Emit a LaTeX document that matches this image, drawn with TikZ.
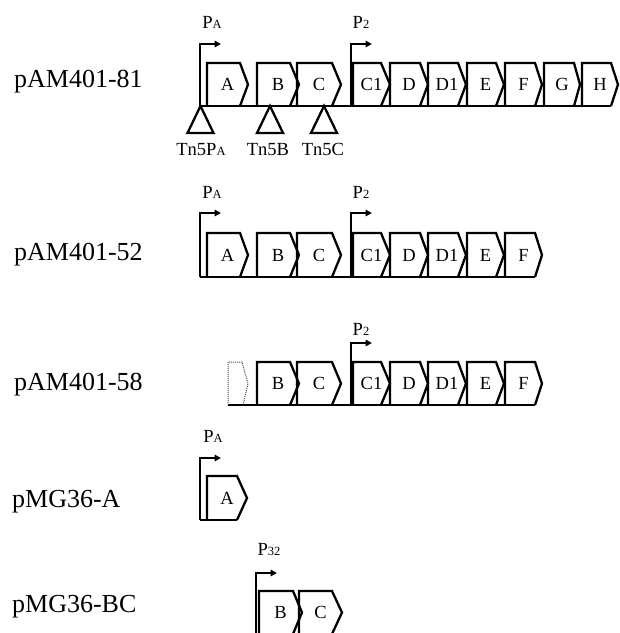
\documentclass[tikz,border=0pt]{standalone}
\usepackage{fontspec}
\setmainfont{Liberation Serif}
\usetikzlibrary{arrows.meta}
\newcommand{\sml}[1]{{\fontsize{12.5}{12.5}\selectfont #1}}
% gene: #1 left, #2 right, #3 tip, #4 top, #5 bottom, #6 label, #7 name
\newcommand{\gene}[7]{%
  \draw[gline] (#1,#5) -- (#1,#4) -- (#2,#4) -- (#3,{(#4+#5)/2}) -- (#2,#5);
  \node[gtext] (#7) at ({(#1+#3)/2},{(#4+#5)/2}) {#6};}
\tikzset{
  gline/.style={line width=2.3pt, line join=miter},
  prom/.style={line width=2.3pt, -{Triangle[length=6.5pt,width=6.5pt]}},
  gtext/.style={font=\fontsize{18.5}{18.5}\selectfont, inner sep=0pt},
  ptext/.style={font=\fontsize{18.5}{18.5}\selectfont, anchor=base, inner sep=0pt},
  rowlabel/.style={font=\fontsize{26}{26}\selectfont, anchor=base west, inner sep=0pt},
  tn/.style={line width=2.3pt, line join=miter},
  dotgene/.style={line width=1pt, dash pattern=on 1pt off 1pt, draw=black!70}
}
\begin{document}
\begin{tikzpicture}[x=1pt,y=-1pt]
\useasboundingbox (0,0) rectangle (620,633);
\fill[white] (0,0) rectangle (620,633);

% ---------- Row 1: pAM401-81 ----------
\node[rowlabel] (l1) at (14,87) {pAM401-81};
\coordinate (b1s) at (200,106);
\coordinate (b1e) at (611,106);
\draw[gline] (b1s) -- (b1e);
\gene{207}{240}{248}{63}{106}{A}{g1a}
\gene{257}{290}{299}{63}{106}{B}{g1b}
\gene{297}{332}{341}{63}{106}{C}{g1c}
\gene{353}{381}{390}{63}{106}{C1}{g1c1}
\gene{390}{420}{428}{63}{106}{D}{g1d}
\gene{428}{458}{466}{63}{106}{D1}{g1d1}
\gene{467}{496}{504}{63}{106}{E}{g1e}
\gene{505}{535}{542}{63}{106}{F}{g1f}
\gene{544}{574}{580}{63}{106}{G}{g1g}
\gene{582}{611}{618}{63}{106}{H}{g1h}
\coordinate (p1a0) at (200,106);
\coordinate (p1a1) at (200,44);
\coordinate (p1a2) at (221,44);
\draw[prom] (p1a0) -- (p1a1) -- (p1a2);
\coordinate (p1b0) at (351,106);
\coordinate (p1b1) at (351,44);
\coordinate (p1b2) at (372,44);
\draw[prom] (p1b0) -- (p1b1) -- (p1b2);
\node[ptext] (t1a) at (212,28) {P\sml{A}};
\node[ptext] (t1b) at (361,28) {P\sml{2}};
% transposon insertions
\coordinate (tn1) at (200.5,106);
\coordinate (tn2) at (270,106);
\coordinate (tn3) at (324,106);
\draw[tn] (tn1) -- ++(13,27) -- ++(-26,0) -- cycle;
\draw[tn] (tn2) -- ++(13,27) -- ++(-26,0) -- cycle;
\draw[tn] (tn3) -- ++(13,27) -- ++(-26,0) -- cycle;
\node[ptext] (tl1) at (201,155) {Tn5P\sml{A}};
\node[ptext] (tl2) at (268,155) {Tn5B};
\node[ptext] (tl3) at (323,155) {Tn5C};

% ---------- Row 2: pAM401-52 ----------
\node[rowlabel] (l2) at (14,260) {pAM401-52};
\coordinate (b2s) at (200,277);
\coordinate (b2e) at (535,277);
\draw[gline] (b2s) -- (b2e);
\gene{207}{240}{248}{233}{277}{A}{g2a}
\gene{257}{290}{299}{233}{277}{B}{g2b}
\gene{297}{332}{341}{233}{277}{C}{g2c}
\gene{353}{381}{390}{233}{277}{C1}{g2c1}
\gene{390}{420}{428}{233}{277}{D}{g2d}
\gene{428}{458}{466}{233}{277}{D1}{g2d1}
\gene{467}{496}{504}{233}{277}{E}{g2e}
\gene{505}{535}{542}{233}{277}{F}{g2f}
\coordinate (p2a0) at (200,277);
\coordinate (p2a1) at (200,213);
\coordinate (p2a2) at (221,213);
\draw[prom] (p2a0) -- (p2a1) -- (p2a2);
\coordinate (p2b0) at (351,277);
\coordinate (p2b1) at (351,213);
\coordinate (p2b2) at (372,213);
\draw[prom] (p2b0) -- (p2b1) -- (p2b2);
\node[ptext] (t2a) at (212,198) {P\sml{A}};
\node[ptext] (t2b) at (361,198) {P\sml{2}};

% ---------- Row 3: pAM401-58 ----------
\node[rowlabel] (l3) at (14,390) {pAM401-58};
\coordinate (b3s) at (228,405);
\coordinate (b3e) at (535,405);
\draw[gline] (b3s) -- (b3e);
\draw[dotgene] (228,405) -- (228,362) -- (242,362) -- (248,383.5) -- (243,405);
\gene{257}{290}{299}{362}{405}{B}{g3b}
\gene{297}{332}{341}{362}{405}{C}{g3c}
\gene{353}{381}{390}{362}{405}{C1}{g3c1}
\gene{390}{420}{428}{362}{405}{D}{g3d}
\gene{428}{458}{466}{362}{405}{D1}{g3d1}
\gene{467}{496}{504}{362}{405}{E}{g3e}
\gene{505}{535}{542}{362}{405}{F}{g3f}
\coordinate (p3b0) at (351,405);
\coordinate (p3b1) at (351,343);
\coordinate (p3b2) at (372,343);
\draw[prom] (p3b0) -- (p3b1) -- (p3b2);
\node[ptext] (t3b) at (361,335) {P\sml{2}};

% ---------- Row 4: pMG36-A ----------
\node[rowlabel] (l4) at (12,507) {pMG36-A};
\coordinate (b4s) at (200,520);
\coordinate (b4e) at (237,520);
\draw[gline] (b4s) -- (b4e);
\gene{207}{237}{247}{476}{520}{A}{g4a}
\coordinate (p4a0) at (200,520);
\coordinate (p4a1) at (200,458);
\coordinate (p4a2) at (221,458);
\draw[prom] (p4a0) -- (p4a1) -- (p4a2);
\node[ptext] (t4a) at (213,442) {P\sml{A}};

% ---------- Row 5: pMG36-BC ----------
\node[rowlabel] (l5) at (12,612) {pMG36-BC};
\coordinate (b5s) at (256,634);
\coordinate (b5e) at (332,634);
\draw[gline] (b5s) -- (b5e);
\gene{259}{293}{302}{591}{634}{B}{g5b}
\gene{299}{332}{342}{591}{634}{C}{g5c}
\coordinate (p5a0) at (256,634);
\coordinate (p5a1) at (256,573);
\coordinate (p5a2) at (277,573);
\draw[prom] (p5a0) -- (p5a1) -- (p5a2);
\node[ptext] (t5a) at (269,555) {P\sml{32}};
\end{tikzpicture}
\end{document}
